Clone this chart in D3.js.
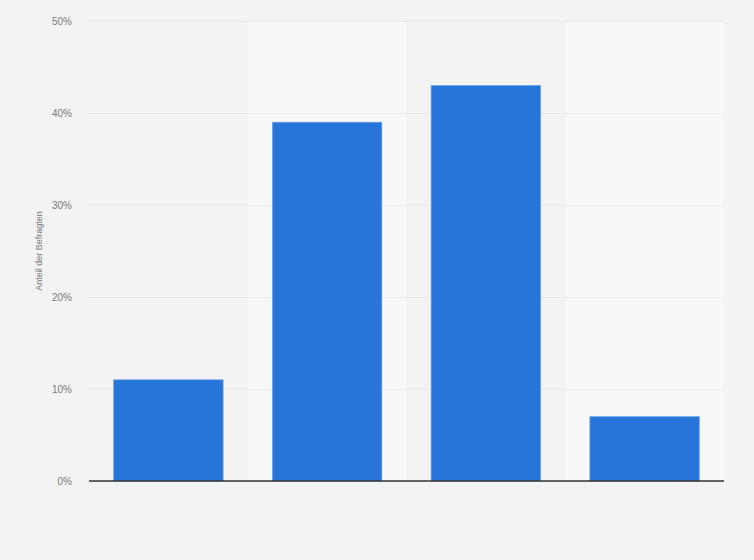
<!DOCTYPE html>
<html>
<head>
<meta charset="utf-8">
<script src="https://cdn.jsdelivr.net/npm/d3@7"></script>
<style>
  html, body { margin: 0; padding: 0; background: #f3f3f3; }
  svg { display: block; font-family: "Liberation Sans", Arial, sans-serif; }
</style>
</head>
<body>
<div id="chart"></div>
<script>
// categories have no visible labels in the source
const categories = ['1', '2', '3', '4'];
const values = [11, 39, 43, 7];
const yTicks = [0, 10, 20, 30, 40, 50];
const yTitle = 'Anteil der Befragten';

(function() {
    const width = 754,
          height = 560,
          margin = { top: 21, right: 30, bottom: 79, left: 89 };

    const svg = d3.select('#chart')
      .append('svg')
      .attr('width', width)
      .attr('height', height);

    svg.append('rect')
      .attr('width', width)
      .attr('height', height)
      .attr('fill', '#f3f3f3');

    const x = d3.scaleBand()
      .domain(categories)
      .range([margin.left, width - margin.right])
      .paddingInner(0.31)
      .paddingOuter(0.155);

    const band = d3.scaleBand()
      .domain(categories)
      .range([margin.left, width - margin.right]);

    const y = d3.scaleLinear()
      .domain([0, 50])
      .range([height - margin.bottom, margin.top]);

    // alternating column shading
    svg.append('g')
      .selectAll('rect')
      .data(categories.filter((d, i) => i % 2 === 1))
      .enter().append('rect')
        .attr('x', d => band(d))
        .attr('y', margin.top)
        .attr('width', band.bandwidth())
        .attr('height', y(0) - margin.top)
        .attr('fill', '#f8f8f8');

    // grid + tick labels
    const yAxis = svg.append('g')
      .attr('transform', `translate(${margin.left},0)`)
      .call(d3.axisLeft(y)
        .tickValues(yTicks)
        .tickSize(-(width - margin.left - margin.right))
        .tickPadding(17)
        .tickFormat(d => d + '%'));

    yAxis.select('.domain').remove();
    yAxis.selectAll('.tick line')
      .attr('stroke', '#dcdcdc')
      .attr('stroke-dasharray', '1,1');
    yAxis.selectAll('.tick text')
      .attr('fill', '#7a7a7a')
      .style('font-size', '10px');

    svg.append('g')
      .selectAll('rect')
      .data(values)
      .enter().append('rect')
        .attr('x', (d, i) => x(categories[i]))
        .attr('y', d => y(d))
        .attr('width', x.bandwidth())
        .attr('height', d => y(0) - y(d))
        .attr('fill', '#2775d9')
        .attr('stroke', '#6fa3ea')
        .attr('stroke-width', 0.6);

    // baseline
    svg.append('line')
      .attr('x1', margin.left)
      .attr('x2', width - margin.right)
      .attr('y1', y(0))
      .attr('y2', y(0))
      .attr('stroke', '#333')
      .attr('stroke-width', 1.3);

    svg.append('text')
      .attr('transform', `translate(42,${(y(0) + y(50)) / 2}) rotate(-90)`)
      .attr('text-anchor', 'middle')
      .attr('fill', '#7a7a7a')
      .style('font-size', '9px')
      .text(yTitle);
})();
</script>
</body>
</html>
